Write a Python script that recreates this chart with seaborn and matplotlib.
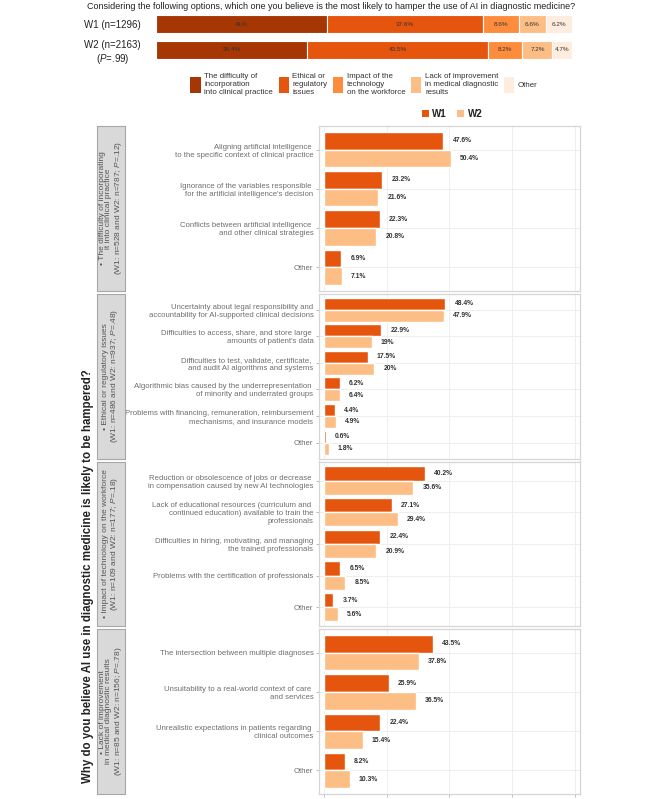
import numpy as np
import pandas as pd
import matplotlib
matplotlib.use("Agg")
import matplotlib.pyplot as plt
from matplotlib.patches import Patch
import seaborn as sns

# -----------------------------
# Data
# -----------------------------

waves = ["W1", "W2"]
wave_labels = ["W1 (n=1296)", "W2 (n=2163)\n($\\it{P}$=.99)"]

options = [
    "The difficulty of\nincorporation\ninto clinical practice",
    "Ethical or\nregulatory\nissues",
    "Impact of the\ntechnology\non the workforce",
    "Lack of improvement\nin medical diagnostic\nresults",
    "Other",
]
overall_w1 = [41, 37.6, 8.6, 6.6, 6.2]
overall_w2 = [36.4, 43.5, 8.2, 7.2, 4.7]

strip_titles = [
    "• The difficulty of incorporating\nit into clinical practice\n(W1: n=528 and W2: n=787; $\\it{P}$=.12)",
    "• Ethical or regulatory issues\n(W1: n=486 and W2: n=937; $\\it{P}$=.48)",
    "• Impact of technology on the workforce\n(W1: n=109 and W2: n=177; $\\it{P}$=.18)",
    "• Lack of improvement\nin medical diagnostic results\n(W1: n=85 and W2: n=156; $\\it{P}$=.78)",
]

reasons_1 = [
    "Aligning artificial intelligence \nto the specific context of clinical practice",
    "Ignorance of the variables responsible \nfor the artificial intelligence's decision",
    "Conflicts between artificial intelligence \nand other clinical strategies",
    "Other",
]
w1_1 = [47.6, 23.2, 22.3, 6.9]
w2_1 = [50.4, 21.6, 20.8, 7.1]

reasons_2 = [
    "Uncertainty about legal responsibility and\naccountability for AI-supported clinical decisions",
    "Difficulties to access, share, and store large \namounts of patient's data",
    "Difficulties to test, validate, certificate, \nand audit AI algorithms and systems",
    "Algorithmic bias caused by the underrepresentation \nof minority and underrated groups",
    "Problems with financing, remuneration, reimbursement\nmechanisms, and insurance models",
    "Other",
]
w1_2 = [48.4, 22.9, 17.5, 6.2, 4.4, 0.6]
w2_2 = [47.9, 19, 20, 6.4, 4.9, 1.8]

reasons_3 = [
    "Reduction or obsolescence of jobs or decrease \nin compensation caused by new AI technologies",
    "Lack of educational resources (curriculum and \ncontinued education) available to train the\nprofessionals",
    "Difficulties in hiring, motivating, and managing\nthe trained professionals",
    "Problems with the certification of professionals",
    "Other",
]
w1_3 = [40.2, 27.1, 22.4, 6.5, 3.7]
w2_3 = [35.6, 29.4, 20.9, 8.5, 5.6]

reasons_4 = [
    "The intersection between multiple diagnoses",
    "Unsuitability to a real-world context of care \nand services",
    "Unrealistic expectations in patients regarding \nclinical outcomes",
    "Other",
]
w1_4 = [43.5, 25.9, 22.4, 8.2]
w2_4 = [37.8, 36.5, 15.4, 10.3]

panels = [
    (reasons_1, w1_1, w2_1),
    (reasons_2, w1_2, w2_2),
    (reasons_3, w1_3, w2_3),
    (reasons_4, w1_4, w2_4),
]

option_colors = ["#A63603", "#E6550D", "#FD8D3C", "#FDBE85", "#FEEDDE"]
wave_colors = {"W1": "#E6550D", "W2": "#FDBE85"}


# -----------------------------
# Style
# -----------------------------

sns.set_theme(style="white")
plt.rcParams["font.family"] = ["Liberation Sans", "DejaVu Sans"]
plt.rcParams["mathtext.fontset"] = "custom"
plt.rcParams["mathtext.rm"] = "Liberation Sans"
plt.rcParams["mathtext.it"] = "Liberation Sans:italic"

W, H = 666, 799
fig = plt.figure(figsize=(W / 100, H / 100), dpi=100)


def box(x0, y0, x1, y1):
    return [x0 / W, 1 - y1 / H, (x1 - x0) / W, (y1 - y0) / H]


# -----------------------------
# Top stacked bar
# -----------------------------

fig.text(331 / W, 1 - 6.5 / H,
         "Considering the following options, which one you believe is the most likely "
         "to hamper the use of AI in diagnostic medicine?",
         ha="center", va="center", fontsize=6.45, color="#222222")

ax_top = fig.add_axes(box(156, 11.3, 572, 62.7))
overall = np.array([overall_w1, overall_w2])
lefts = np.cumsum(overall, axis=1) - overall
for j, opt in enumerate(options):
    bars = ax_top.barh([0, 1], overall[:, j], left=lefts[:, j], height=0.72,
                       color=option_colors[j], edgecolor="white", linewidth=0.8)
    ax_top.bar_label(bars, labels=[f"{v:g}%" for v in overall[:, j]],
                     label_type="center", fontsize=4.6, color="#333333")
ax_top.set_xlim(0, 100)
ax_top.set_ylim(1.5, -0.5)
ax_top.set_yticks([0, 1])
ax_top.set_yticklabels(wave_labels, fontsize=7, color="#222222",
                       multialignment="center")
ax_top.set_xticks([])
ax_top.tick_params(axis="y", length=0, pad=11)
for s in ax_top.spines.values():
    s.set_visible(False)

fig.legend(
    handles=[Patch(facecolor=c, edgecolor="none", label=t)
             for c, t in zip(option_colors, options)],
    loc="center", bbox_to_anchor=(364 / W, 1 - 84.5 / H), ncol=5,
    frameon=False, fontsize=5.7, handlelength=1.3, handleheight=2.7,
    handletextpad=0.45, columnspacing=0.7, borderpad=0, labelcolor="#333333",
)

fig.legend(
    handles=[Patch(facecolor=wave_colors[w], edgecolor="none", label=w) for w in waves],
    loc="center", bbox_to_anchor=(452 / W, 1 - 114 / H), ncol=2,
    frameon=False, handlelength=0.75, handleheight=0.75,
    handletextpad=0.35, columnspacing=1.0, borderpad=0,
    prop={"size": 7, "weight": "bold"}, labelcolor="#222222",
)


# -----------------------------
# Facet panels
# -----------------------------

top, bottom, gap = 126, 794, 3
ph = (bottom - top - gap * 3) / 4

for i, (reasons, v1, v2) in enumerate(panels):
    y0 = top + i * (ph + gap)
    y1 = y0 + ph

    df = pd.DataFrame({
        "reason": reasons * 2,
        "wave": ["W1"] * len(reasons) + ["W2"] * len(reasons),
        "pct": v1 + v2,
    })

    ax = fig.add_axes(box(319, y0, 580, y1))
    sns.barplot(data=df, y="reason", x="pct", hue="wave", order=reasons,
                hue_order=waves, palette=wave_colors, orient="h", width=0.9,
                saturation=1, legend=False, ax=ax)

    for cont, vals in zip(ax.containers, [v1, v2]):
        ax.bar_label(cont, labels=[f"{v:g}%" for v in vals], padding=6.5,
                     fontsize=4.9, fontweight="bold", color="#333333")

    n = len(reasons)
    ax.set_xlim(-2, 102)
    ax.set_ylim(n - 1 + 0.6, -0.6)
    ax.set_xticks([0, 25, 50, 75, 100])
    ax.set_xticklabels([])
    ax.set_xlabel("")
    ax.set_ylabel("")
    ax.grid(True, color="#EBEBEB", linewidth=0.6)
    ax.set_axisbelow(True)
    for s in ax.spines.values():
        s.set_color("#D6D6D6")
        s.set_linewidth(0.9)
    ax.tick_params(axis="y", length=2.5, width=0.5, color="#A0A0A0",
                   labelsize=5.55, labelcolor="#6E6E6E", pad=1.5, left=True)
    if i == 3:
        ax.tick_params(axis="x", length=2.5, width=0.5, color="#A0A0A0", bottom=True)
    else:
        ax.tick_params(axis="x", length=0)

    # strip on the left
    sx = fig.add_axes(box(97, y0, 125, y1))
    sx.set_facecolor("#D9D9D9")
    sx.set_xticks([])
    sx.set_yticks([])
    for s in sx.spines.values():
        s.set_color("#A8A8A8")
        s.set_linewidth(0.8)
    sx.text(0.5, 0.5, strip_titles[i], rotation=90, ha="center", va="center",
            multialignment="center", fontsize=6.0, color="#555555",
            linespacing=1.0, transform=sx.transAxes)

fig.text(88 / W, 1 - 576 / H,
         "Why do you believe AI use in diagnostic medicine is likely to be hampered?",
         rotation=90, ha="center", va="center", fontsize=8.3,
         fontweight="bold", color="#222222")

fig.savefig("out.png", dpi=100)
